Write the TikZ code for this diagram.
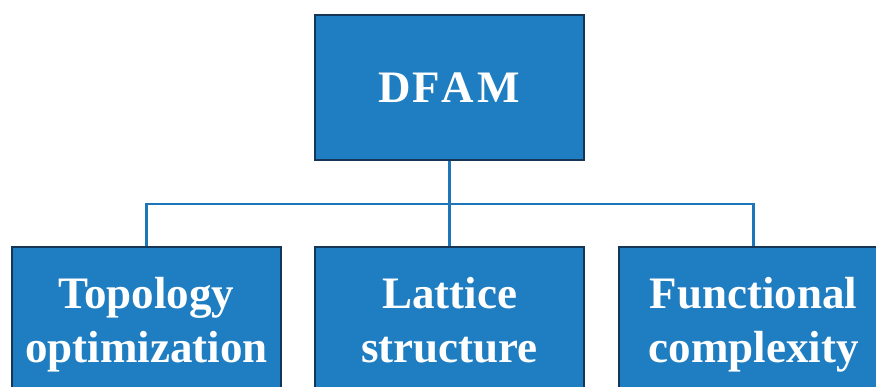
\documentclass[tikz,border=0pt]{standalone}
\usepackage{fontspec}
\setmainfont{Liberation Serif}
\definecolor{boxblue}{RGB}{31,126,193}
\definecolor{boxedge}{RGB}{22,54,88}
\definecolor{linkblue}{RGB}{30,118,186}
\tikzset{
  block/.style={draw=boxedge,line width=1.6pt,fill=boxblue,text=white,
    minimum width=269pt,align=center,inner sep=0pt,
    font=\bfseries\fontsize{45}{54}\selectfont},
  link/.style={draw=linkblue,line width=2.2pt}
}
\begin{document}
\begin{tikzpicture}[x=1pt,y=-1pt]
\useasboundingbox (0,0) rectangle (876,387);
\clip (0,0) rectangle (876,387);
\def\bustop{204} % height of the bus line
\node[block,minimum height=145pt] (dfam) at (449.5,87.5) {D\kern2ptF\kern1ptA\kern4ptM};
\foreach \name/\cx/\txt in {topo/146.5/{Topology\\optimization},latt/449.5/{Lattice\\structure},func/753.5/{Functional\\complexity}} {
	\node[block,minimum height=156pt] (\name) at (\cx,325) {\txt\vphantom{g}};
}
\coordinate (bus) at (449.5,\bustop);
\draw[link] (dfam.south) -- (latt.north);
\draw[link] (topo.north) |- (bus) -| (func.north);
\end{tikzpicture}
\end{document}
